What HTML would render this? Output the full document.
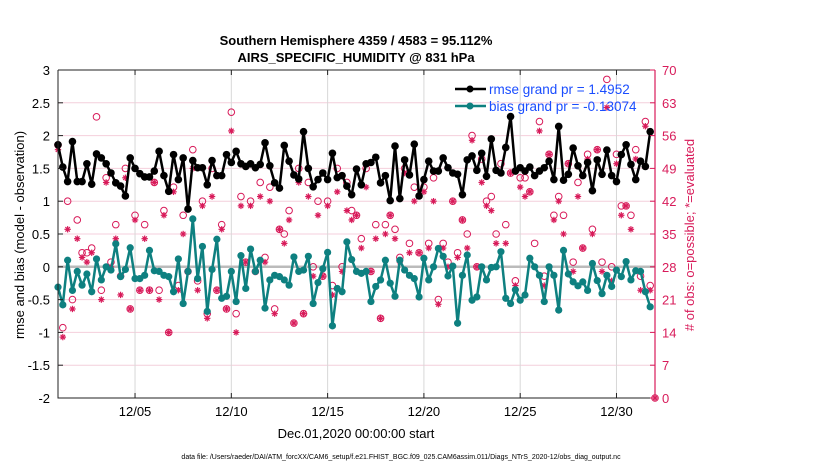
<!DOCTYPE html>
<html><head><meta charset="utf-8">
<style>
body{margin:0;background:#fff;}
svg{display:block;font-family:"Liberation Sans",Arial,sans-serif;}
</style></head>
<body>
<svg id="chart" width="830" height="470" viewBox="0 0 830 470" xmlns="http://www.w3.org/2000/svg">
<rect x="0" y="0" width="830" height="470" fill="#fff"/>
<text x="356" y="45" text-anchor="middle" font-size="13" font-weight="bold">Southern Hemisphere 4359 / 4583 = 95.112%</text>
<text x="356" y="62" text-anchor="middle" font-size="13" font-weight="bold">AIRS_SPECIFIC_HUMIDITY @ 831 hPa</text>
<g id="grid"></g>
<g id="obs"></g>
<g id="lines"></g>
<g id="axes"></g>
<g id="legend">
  <line x1="455" y1="89" x2="486" y2="89" stroke="#000" stroke-width="2.5"/>
  <circle cx="470" cy="89" r="3.5" fill="#000"/>
  <text x="489" y="94" font-size="13.5" fill="#1a4dff">rmse grand pr = 1.4952</text>
  <line x1="455" y1="106" x2="486" y2="106" stroke="#0e8080" stroke-width="2.5"/>
  <circle cx="470" cy="106" r="3.5" fill="#0e8080"/>
  <text x="489" y="111" font-size="13.5" fill="#1a4dff">bias grand pr = -0.13074</text>
</g>
<text transform="translate(24,235) rotate(-90)" text-anchor="middle" font-size="13">rmse and bias (model - observation)</text>
<text transform="translate(694,235) rotate(-90)" text-anchor="middle" font-size="13" fill="#d81b5a"># of obs: o=possible; *=evaluated</text>
<text x="356" y="438" text-anchor="middle" font-size="13">Dec.01,2020 00:00:00 start</text>
<text x="401" y="459" text-anchor="middle" font-size="7">data file: /Users/raeder/DAI/ATM_forcXX/CAM6_setup/f.e21.FHIST_BGC.f09_025.CAM6assim.011/Diags_NTrS_2020-12/obs_diag_output.nc</text>
</svg>
<script>
const rmse=[1.86,1.52,1.30,1.91,1.30,1.30,1.57,1.26,1.72,1.66,1.57,1.43,1.28,1.23,1.08,1.66,1.50,1.42,1.37,1.37,1.46,1.76,1.39,1.15,1.71,1.33,1.66,0.88,1.62,1.51,1.51,1.25,1.62,1.39,1.39,1.71,1.59,1.76,1.57,1.53,1.57,1.51,1.56,1.89,1.54,1.28,1.20,1.85,1.61,1.40,1.34,2.06,1.50,1.22,1.33,1.43,1.33,1.73,1.36,1.39,1.23,1.10,1.49,1.25,1.57,1.59,1.67,1.28,1.39,1.01,1.84,1.04,1.63,1.40,1.87,1.08,1.33,1.61,1.46,1.46,1.66,1.51,1.43,1.41,1.10,1.63,1.69,1.47,1.73,1.38,1.95,1.47,1.43,1.82,2.29,1.46,1.51,1.46,1.52,1.39,1.46,1.51,1.61,1.33,2.14,1.32,1.41,1.81,1.54,1.39,1.59,1.16,1.63,1.41,1.78,1.39,1.30,1.71,1.86,1.56,1.33,1.61,1.53,2.06];
const bias=[-0.31,-0.58,0.10,-0.36,-0.07,-0.28,-0.11,-0.38,0.12,-0.20,0.00,-0.05,0.35,-0.15,-0.04,0.29,-0.18,-0.18,-0.13,0.25,-0.06,-0.07,-0.13,-0.15,-0.38,0.12,-0.56,-0.07,0.73,-0.18,0.31,-0.68,-0.04,0.42,-0.48,-0.45,-0.07,-0.53,0.17,-0.33,0.27,-0.07,0.10,-0.63,-0.20,-0.13,-0.15,-0.20,-0.28,0.15,-0.07,-0.05,0.16,-0.56,-0.24,-0.03,0.22,-0.90,-0.33,-0.38,0.38,0.11,-0.07,-0.10,-0.07,-0.53,-0.30,-0.20,0.10,-0.25,-0.45,0.10,-0.05,-0.13,-0.18,-0.46,0.13,-0.20,0.00,0.28,0.16,-0.14,0.01,-0.86,-0.13,0.18,-0.51,-0.46,0.00,-0.20,-0.01,0.00,0.23,-0.48,-0.56,-0.35,-0.51,-0.43,0.13,0.00,-0.13,-0.53,0.00,-0.13,-0.66,0.25,-0.11,-0.23,-0.29,-0.23,-0.36,0.05,-0.21,-0.41,-0.13,-0.30,-0.05,-0.15,0.08,-0.20,-0.06,-0.07,-0.38,-0.61];
const nPossible=[54,15,42,21,38,31,31,32,60,23,47,29,37,26,49,19,39,23,37,23,46,23,40,14,45,24,39,27,53,25,42,18,49,23,37,19,61,18,43,29,42,27,46,30,45,19,36,35,40,16,49,18,46,28,42,26,42,24,49,28,46,40,39,34,49,27,37,17,37,39,36,30,49,33,45,31,45,33,47,21,33,29,42,31,38,35,56,28,51,42,43,35,50,37,48,25,47,47,44,33,59,26,52,39,43,39,50,29,46,32,52,36,53,29,68,28,52,41,41,39,53,26,59,24,0];
const nEvaluated=[53,13,36,19,34,30,29,31,52,21,46,28,34,22,47,19,38,23,34,23,46,21,39,14,44,23,35,27,49,23,41,17,43,23,36,19,57,14,41,29,41,27,43,29,42,18,36,33,38,16,46,18,43,26,39,26,41,22,44,27,40,38,39,32,45,27,34,17,35,39,34,29,48,31,42,31,44,32,42,20,32,28,42,30,38,32,55,28,46,41,40,33,48,33,48,24,45,43,44,28,57,24,52,38,42,35,50,27,43,32,51,35,53,27,62,25,50,39,41,36,51,23,58,23,0];
const xTickDays=[4,9,14,19,24,29];
const xTickLabels=["12/05","12/10","12/15","12/20","12/25","12/30"];
const yLeftTicks=[-2,-1.5,-1,-0.5,0,0.5,1,1.5,2,2.5,3];
const yRightTicks=[0,7,14,21,28,35,42,49,56,63,70];

const NS="http://www.w3.org/2000/svg";
const L=58,R=655,T=70,B=398;
const xs=d=>L+(d/31)*(R-L);
const yl=v=>B-(v+2)/5*(B-T);
const yr=v=>B-v/70*(B-T);
const dayOf=i=>i*0.25;
function mk(tag,attrs,parent){const e=document.createElementNS(NS,tag);for(const k in attrs)e.setAttribute(k,attrs[k]);parent.appendChild(e);return e;}
const grid=document.getElementById('grid'),obs=document.getElementById('obs'),lines=document.getElementById('lines'),axes=document.getElementById('axes');
const MAG="#d81b5a",TEAL="#0e8080";
// grid
yRightTicks.forEach(v=>{if(v>0&&v<70){const g=mk('line',{x1:L,x2:R,y1:yr(v),y2:yr(v),stroke:'#f4cfdc','stroke-width':1},grid);

}});
xTickDays.forEach(d=>{const g=mk('line',{x1:xs(d),x2:xs(d),y1:T,y2:B,stroke:'#d8d8d8','stroke-width':1},grid);

});
const z=mk('line',{x1:L,x2:R,y1:yl(0),y2:yl(0),stroke:'#bbbbbb','stroke-width':2.5},grid);


// obs counts
function star(cx,cy,parent){const g=mk('g',{stroke:MAG,'stroke-width':1.2},parent);


const r=3.2;[[r,0],[0,r],[r*0.7,r*0.7],[r*0.7,-r*0.7]].forEach(p=>mk('line',{x1:cx-p[0],y1:cy-p[1],x2:cx+p[0],y2:cy+p[1]},g));}
nPossible.forEach((v,i)=>{const c=mk('circle',{cx:xs(dayOf(i)),cy:yr(v),r:3.3,fill:'none',stroke:MAG,'stroke-width':1},obs);

});
nEvaluated.forEach((v,i)=>star(xs(dayOf(i)),yr(v),obs));
// series
function series(vals,color,name,markerFn){const pts=vals.map((v,i)=>xs(dayOf(i)).toFixed(1)+','+yl(v).toFixed(1)).join(' ');
const pl=mk('polyline',{points:pts,fill:'none',stroke:color,'stroke-width':2.5,'stroke-linejoin':'round'},lines);


vals.forEach((v,i)=>{const c=mk('circle',{cx:xs(dayOf(i)),cy:yl(v),r:markerFn,fill:color},lines);

});}
series(bias,TEAL,'bias',3.6);
series(rmse,'#000','rmse',3.8);
// axes
const frame=mk('path',{d:`M${L},${T}H${R}M${L},${T}V${B}H${R}`,fill:'none',stroke:'#222','stroke-width':1},axes);


const ra=mk('line',{x1:R,x2:R,y1:T,y2:B,stroke:MAG,'stroke-width':1.2},axes);


yLeftTicks.forEach(v=>{mk('line',{x1:L,x2:L+5,y1:yl(v),y2:yl(v),stroke:'#222'},axes);
const t=mk('text',{x:L-8,y:yl(v)+5,'text-anchor':'end','font-size':13},axes);t.textContent=String(v);

});
yRightTicks.forEach(v=>{mk('line',{x1:R-5,x2:R,y1:yr(v),y2:yr(v),stroke:MAG},axes);
const t=mk('text',{x:R+7,y:yr(v)+5,'font-size':13,fill:MAG},axes);t.textContent=String(v);

});
xTickDays.forEach((d,i)=>{mk('line',{x1:xs(d),x2:xs(d),y1:B,y2:B-5,stroke:'#222'},axes);mk('line',{x1:xs(d),x2:xs(d),y1:T,y2:T+5,stroke:'#222'},axes);
const t=mk('text',{x:xs(d),y:B+18,'text-anchor':'middle','font-size':13},axes);t.textContent=xTickLabels[i];

});
</script>
</body></html>
